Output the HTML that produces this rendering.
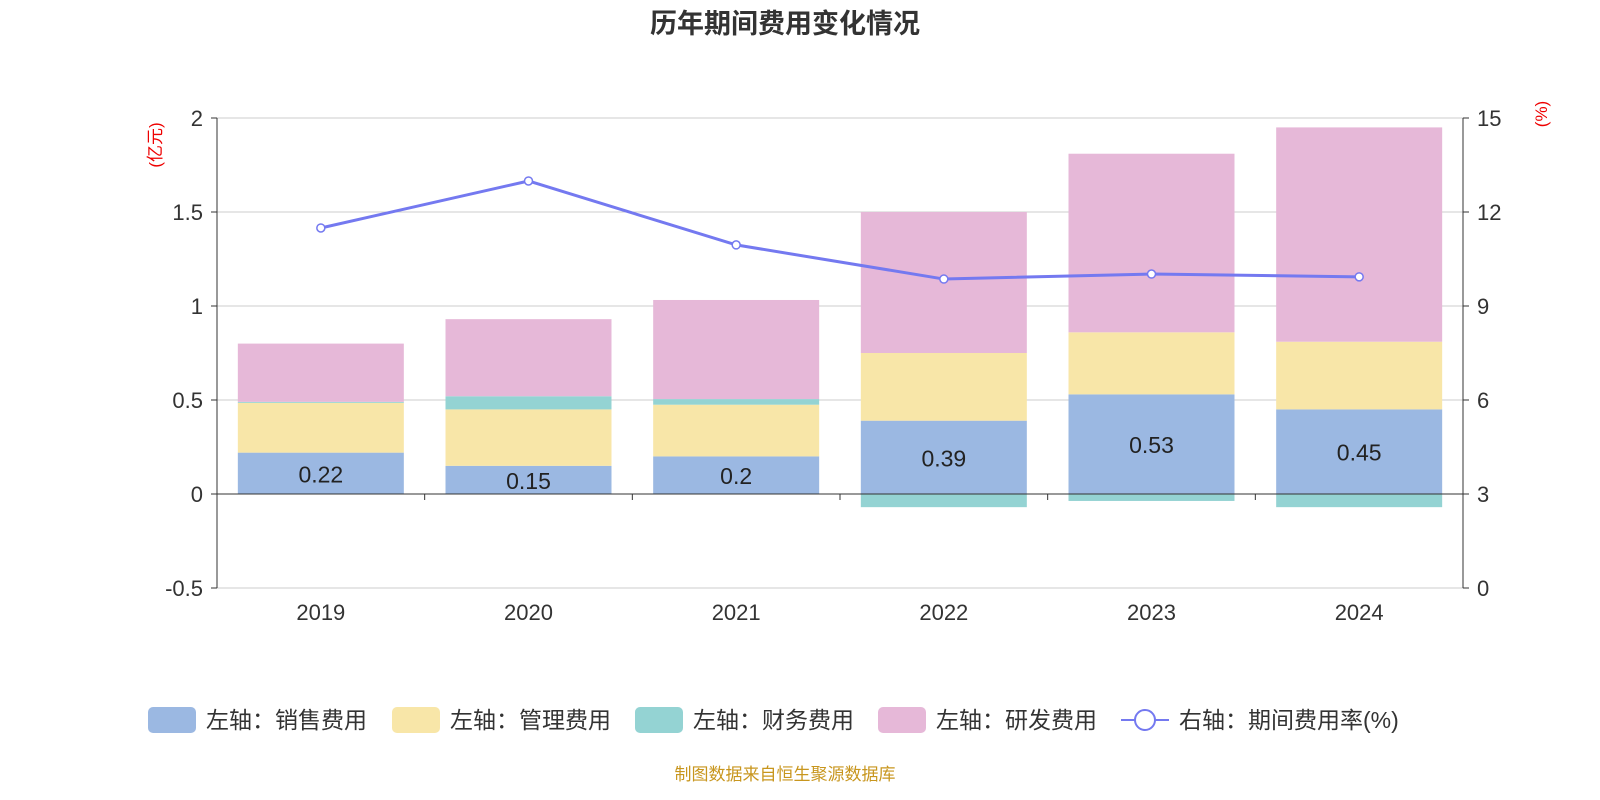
<!DOCTYPE html>
<html><head><meta charset="utf-8"><style>
body{margin:0;background:#fff;}
svg{display:block;font-family:"Liberation Sans","Noto Sans CJK SC",sans-serif;}
</style></head><body>
<svg id="c" width="1600" height="800">
<text x="785" y="33" text-anchor="middle" font-size="27" font-weight="bold" fill="#333">历年期间费用变化情况</text>
<text transform="translate(161,145) rotate(-90)" text-anchor="middle" font-size="17" fill="#e00">(亿元)</text>
<text transform="translate(1547,114) rotate(-90)" text-anchor="middle" font-size="17" fill="#e00">(%)</text>
<g id="grid"></g><g id="bars"></g><g id="axes"></g><g id="line"></g>
<g id="legend">
<rect x="148" y="707" width="48" height="26" rx="5" fill="#9bb8e2"/>
<text x="206" y="728" font-size="23" fill="#333">左轴：销售费用</text>
<rect x="392" y="707" width="48" height="26" rx="5" fill="#f8e6a8"/>
<text x="450" y="728" font-size="23" fill="#333">左轴：管理费用</text>
<rect x="635" y="707" width="48" height="26" rx="5" fill="#94d3d3"/>
<text x="693" y="728" font-size="23" fill="#333">左轴：财务费用</text>
<rect x="878" y="707" width="48" height="26" rx="5" fill="#e6b8d8"/>
<text x="936" y="728" font-size="23" fill="#333">左轴：研发费用</text>
<line x1="1121" y1="720" x2="1169" y2="720" stroke="#7479f0" stroke-width="2"/>
<circle cx="1145" cy="720" r="10" fill="#fff" stroke="#7479f0" stroke-width="2"/>
<text x="1179" y="728" font-size="23" fill="#333">右轴：期间费用率(%)</text>
</g>
<text x="785" y="780" text-anchor="middle" font-size="17" fill="#c8961e">制图数据来自恒生聚源数据库</text>
</svg>
<script>
const years=["2019","2020","2021","2022","2023","2024"];
const sales=[0.22,0.15,0.2,0.39,0.53,0.45];
const admin=[0.265,0.30,0.275,0.36,0.33,0.36];
const finance=[0.005,0.07,0.03,-0.07,-0.037,-0.07];
const rd=[0.31,0.41,0.527,0.75,0.95,1.14];
const rate=[11.49,12.99,10.95,9.86,10.02,9.93];
const leftTicks=[-0.5,0,0.5,1,1.5,2];
const rightTicks=[0,3,6,9,12,15];
const NS="http://www.w3.org/2000/svg";
const L=217,R=1463,T=118,B=588;
const yL=v=>494-v*188;
const yR=v=>B-v*(B-T)/15;
const cw=(R-L)/years.length;
const xc=i=>L+cw*(i+0.5);
function mk(p,tag,a){const e=document.createElementNS(NS,tag);for(const k in a)e.setAttribute(k,a[k]);document.getElementById(p).appendChild(e);return e;}
leftTicks.forEach((t,i)=>{
 const g=mk('grid','line',{x1:L,x2:R,y1:yL(t),y2:yL(t),stroke:'#ccc','stroke-width':1});
 
 
 const tk=mk('axes','line',{x1:L-6,x2:L,y1:yL(t),y2:yL(t),stroke:'#333'});
 
 
 const tx=mk('axes','text',{x:L-14,y:yL(t)+8,'text-anchor':'end','font-size':22,fill:'#333'});
 tx.textContent=t;
 
 
});
rightTicks.forEach(t=>{
 const tk=mk('axes','line',{x1:R,x2:R+6,y1:yR(t),y2:yR(t),stroke:'#333'});
 
 
 const tx=mk('axes','text',{x:R+14,y:yR(t)+8,'font-size':22,fill:'#333'});
 tx.textContent=t;
 
 
});
const bw=166;
function bar(i,v0,v1,col,name){
 const y0=yL(Math.max(v0,v1)),y1=yL(Math.min(v0,v1));
 const r=mk('bars','rect',{x:xc(i)-bw/2,y:y0,width:bw,height:Math.max(0,y1-y0),fill:col});
 
 
}
years.forEach((y,i)=>{
 bar(i,0,sales[i],'#9bb8e2','bar-sales-'+y);
 let top=sales[i]+admin[i];
 bar(i,sales[i],top,'#f8e6a8','bar-admin-'+y);
 if(finance[i]>=0){bar(i,top,top+finance[i],'#94d3d3','bar-finance-'+y);top+=finance[i];}
 else bar(i,0,finance[i],'#94d3d3','bar-finance-'+y);
 bar(i,top,top+rd[i],'#e6b8d8','bar-rd-'+y);
 const lb=mk('bars','text',{x:xc(i),y:yL(sales[i]/2)+9,'text-anchor':'middle','font-size':23,fill:'#222'});
 lb.textContent=sales[i];
 
 
 const xl=mk('axes','text',{x:xc(i),y:620,'text-anchor':'middle','font-size':22,fill:'#333'});
 xl.textContent=y;
 
 
});
for(let i=0;i<=years.length;i++){
 const tk=mk('axes','line',{x1:L+cw*i,x2:L+cw*i,y1:494,y2:500,stroke:'#333'});
 
 
}
let a=mk('axes','line',{x1:L,x2:R,y1:494,y2:494,stroke:'#333'});


a=mk('axes','line',{x1:L,x2:L,y1:T,y2:B,stroke:'#333'});


a=mk('axes','line',{x1:R,x2:R,y1:T,y2:B,stroke:'#333'});


const pl=mk('line','polyline',{points:rate.map((v,i)=>xc(i)+','+yR(v)).join(' '),fill:'none',stroke:'#7479f0','stroke-width':3});


rate.forEach((v,i)=>{
 const c=mk('line','circle',{cx:xc(i),cy:yR(v),r:4,fill:'#fff',stroke:'#7479f0','stroke-width':1.5});
 
 
});
</script>
</body></html>
